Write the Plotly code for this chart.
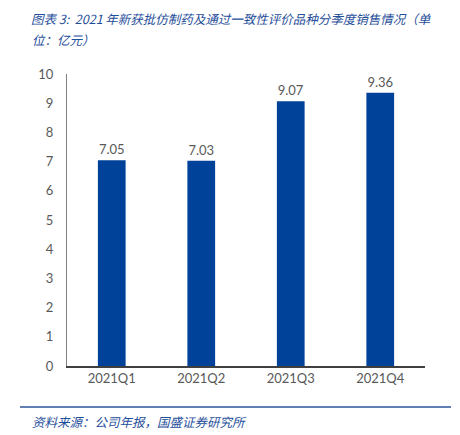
import plotly.graph_objects as go

categories = ["2021Q1", "2021Q2", "2021Q3", "2021Q4"]
values = [7.05, 7.03, 9.07, 9.36]
y_ticks = [0, 1, 2, 3, 4, 5, 6, 7, 8, 9, 10]

title_line1 = "图表 3:  2021 年新获批仿制药及通过一致性评价品种分季度销售情况（单"
title_line2 = "位：亿元）"
source_text = "资料来源：公司年报，国盛证券研究所"

BLUE = "#00419A"
TXT_BLUE = "#1F4E9A"
GRAY = "#595959"

OFF = 8  # page body margin
W, H = 460 - OFF, 435 - OFF
L, R, T, B = 67 - OFF, 460 - 425, 74 - OFF, 435 - 366

fig = go.Figure(go.Bar(
    x=categories, y=values,
    marker=dict(color=BLUE, line=dict(width=0)),
    text=[f"{v:.2f}" for v in values],
    textposition="outside",
    textfont=dict(family="Lato, Open Sans, sans-serif", size=13, color=GRAY),
    cliponaxis=False,
    width=0.31,
))

pw, ph = W - L - R, H - T - B

def px(x):
    return (x - OFF - L) / pw

def py(y):
    return 1 - (y - OFF - T) / ph

fig.update_layout(
    width=W, height=H,
    margin=dict(l=L, r=R, t=T, b=B),
    plot_bgcolor="white", paper_bgcolor="white",
    showlegend=False,
    xaxis=dict(
        showline=True, linecolor="#404040", linewidth=1.5,
        ticks="", showgrid=False,
        tickfont=dict(family="Lato, Open Sans, sans-serif", size=13, color=GRAY),
    ),
    yaxis=dict(
        range=[0, 10], tickvals=y_ticks,
        showline=True, linecolor="#808080", linewidth=1,
        ticks="", showgrid=False, zeroline=False,
        tickfont=dict(family="Lato, Open Sans, sans-serif", size=13, color=GRAY),
        ticklabelstandoff=10,
    ),
    annotations=[
        dict(text=f"<i>{title_line1}</i>", x=px(30), y=py(8), xref="paper", yref="paper",
             showarrow=False, xanchor="left", yanchor="top", borderpad=0,
             font=dict(family="Noto Sans CJK SC", size=12.5, color=TXT_BLUE)),
        dict(text=f"<i>{title_line2}</i>", x=px(30), y=py(40), xref="paper", yref="paper",
             showarrow=False, xanchor="left", yanchor="middle",
             font=dict(family="Noto Sans CJK SC", size=12.5, color=TXT_BLUE)),
        dict(text=f"<i>{source_text}</i>", x=px(30), y=py(421), xref="paper", yref="paper",
             showarrow=False, xanchor="left", yanchor="middle",
             font=dict(family="Noto Sans CJK SC", size=12.5, color=TXT_BLUE)),
    ],
)

fig.add_shape(type="line", xref="paper", yref="paper",
              x0=px(20), x1=px(451), y0=py(407), y1=py(407),
              line=dict(color="#2F5597", width=1.5))

fig.write_html("out.html")
